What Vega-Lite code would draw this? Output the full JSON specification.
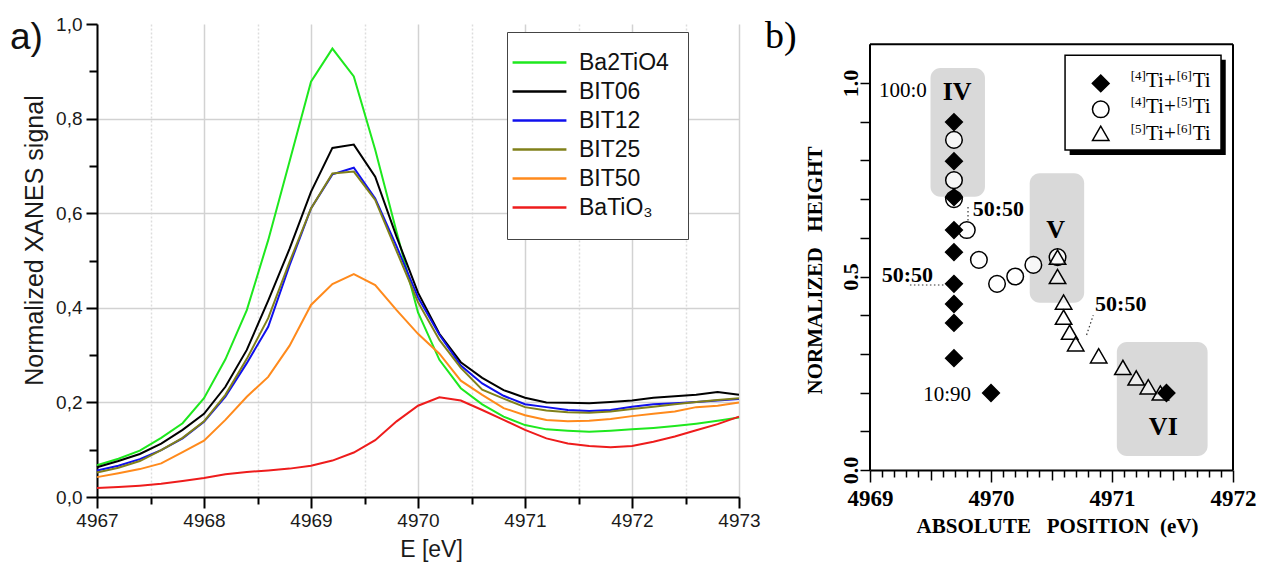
{
  "$schema": "https://vega.github.io/schema/vega-lite/v6.json",
  "background": "white",
  "padding": {"left": 10, "top": 15, "right": 5, "bottom": 5},
  "bounds": "flush",
  "spacing": 131,
  "config": {"view": {"stroke": null}},
  "datasets": {
    "xanes": [
      {"sample":"Ba2TiO4","E":4967,"signal":0.067},{"sample":"Ba2TiO4","E":4967.2,"signal":0.081},{"sample":"Ba2TiO4","E":4967.4,"signal":0.098},{"sample":"Ba2TiO4","E":4967.6,"signal":0.125},{"sample":"Ba2TiO4","E":4967.8,"signal":0.156},{"sample":"Ba2TiO4","E":4968,"signal":0.209},{"sample":"Ba2TiO4","E":4968.2,"signal":0.291},{"sample":"Ba2TiO4","E":4968.4,"signal":0.395},{"sample":"Ba2TiO4","E":4968.6,"signal":0.543},{"sample":"Ba2TiO4","E":4968.8,"signal":0.71},{"sample":"Ba2TiO4","E":4969,"signal":0.878},{"sample":"Ba2TiO4","E":4969.2,"signal":0.948},{"sample":"Ba2TiO4","E":4969.4,"signal":0.889},{"sample":"Ba2TiO4","E":4969.6,"signal":0.734},{"sample":"Ba2TiO4","E":4969.8,"signal":0.56},{"sample":"Ba2TiO4","E":4970,"signal":0.39},{"sample":"Ba2TiO4","E":4970.2,"signal":0.29},{"sample":"Ba2TiO4","E":4970.4,"signal":0.23},{"sample":"Ba2TiO4","E":4970.6,"signal":0.196},{"sample":"Ba2TiO4","E":4970.8,"signal":0.17},{"sample":"Ba2TiO4","E":4971,"signal":0.152},{"sample":"Ba2TiO4","E":4971.2,"signal":0.143},{"sample":"Ba2TiO4","E":4971.4,"signal":0.14},{"sample":"Ba2TiO4","E":4971.6,"signal":0.138},{"sample":"Ba2TiO4","E":4971.8,"signal":0.14},{"sample":"Ba2TiO4","E":4972,"signal":0.143},{"sample":"Ba2TiO4","E":4972.2,"signal":0.146},{"sample":"Ba2TiO4","E":4972.4,"signal":0.15},{"sample":"Ba2TiO4","E":4972.6,"signal":0.155},{"sample":"Ba2TiO4","E":4972.8,"signal":0.161},{"sample":"Ba2TiO4","E":4973,"signal":0.168},
      {"sample":"BIT06","E":4967,"signal":0.063},{"sample":"BIT06","E":4967.2,"signal":0.076},{"sample":"BIT06","E":4967.4,"signal":0.091},{"sample":"BIT06","E":4967.6,"signal":0.113},{"sample":"BIT06","E":4967.8,"signal":0.142},{"sample":"BIT06","E":4968,"signal":0.176},{"sample":"BIT06","E":4968.2,"signal":0.233},{"sample":"BIT06","E":4968.4,"signal":0.311},{"sample":"BIT06","E":4968.6,"signal":0.415},{"sample":"BIT06","E":4968.8,"signal":0.525},{"sample":"BIT06","E":4969,"signal":0.645},{"sample":"BIT06","E":4969.2,"signal":0.738},{"sample":"BIT06","E":4969.4,"signal":0.745},{"sample":"BIT06","E":4969.6,"signal":0.677},{"sample":"BIT06","E":4969.8,"signal":0.55},{"sample":"BIT06","E":4970,"signal":0.432},{"sample":"BIT06","E":4970.2,"signal":0.345},{"sample":"BIT06","E":4970.4,"signal":0.285},{"sample":"BIT06","E":4970.6,"signal":0.252},{"sample":"BIT06","E":4970.8,"signal":0.226},{"sample":"BIT06","E":4971,"signal":0.21},{"sample":"BIT06","E":4971.2,"signal":0.2},{"sample":"BIT06","E":4971.4,"signal":0.199},{"sample":"BIT06","E":4971.6,"signal":0.198},{"sample":"BIT06","E":4971.8,"signal":0.201},{"sample":"BIT06","E":4972,"signal":0.204},{"sample":"BIT06","E":4972.2,"signal":0.21},{"sample":"BIT06","E":4972.4,"signal":0.213},{"sample":"BIT06","E":4972.6,"signal":0.216},{"sample":"BIT06","E":4972.8,"signal":0.222},{"sample":"BIT06","E":4973,"signal":0.216},
      {"sample":"BIT12","E":4967,"signal":0.056},{"sample":"BIT12","E":4967.2,"signal":0.066},{"sample":"BIT12","E":4967.4,"signal":0.08},{"sample":"BIT12","E":4967.6,"signal":0.099},{"sample":"BIT12","E":4967.8,"signal":0.124},{"sample":"BIT12","E":4968,"signal":0.159},{"sample":"BIT12","E":4968.2,"signal":0.212},{"sample":"BIT12","E":4968.4,"signal":0.283},{"sample":"BIT12","E":4968.6,"signal":0.36},{"sample":"BIT12","E":4968.8,"signal":0.49},{"sample":"BIT12","E":4969,"signal":0.61},{"sample":"BIT12","E":4969.2,"signal":0.682},{"sample":"BIT12","E":4969.4,"signal":0.696},{"sample":"BIT12","E":4969.6,"signal":0.631},{"sample":"BIT12","E":4969.8,"signal":0.53},{"sample":"BIT12","E":4970,"signal":0.422},{"sample":"BIT12","E":4970.2,"signal":0.343},{"sample":"BIT12","E":4970.4,"signal":0.278},{"sample":"BIT12","E":4970.6,"signal":0.24},{"sample":"BIT12","E":4970.8,"signal":0.214},{"sample":"BIT12","E":4971,"signal":0.196},{"sample":"BIT12","E":4971.2,"signal":0.19},{"sample":"BIT12","E":4971.4,"signal":0.184},{"sample":"BIT12","E":4971.6,"signal":0.182},{"sample":"BIT12","E":4971.8,"signal":0.184},{"sample":"BIT12","E":4972,"signal":0.191},{"sample":"BIT12","E":4972.2,"signal":0.196},{"sample":"BIT12","E":4972.4,"signal":0.198},{"sample":"BIT12","E":4972.6,"signal":0.201},{"sample":"BIT12","E":4972.8,"signal":0.204},{"sample":"BIT12","E":4973,"signal":0.207},
      {"sample":"BIT25","E":4967,"signal":0.052},{"sample":"BIT25","E":4967.2,"signal":0.062},{"sample":"BIT25","E":4967.4,"signal":0.076},{"sample":"BIT25","E":4967.6,"signal":0.099},{"sample":"BIT25","E":4967.8,"signal":0.125},{"sample":"BIT25","E":4968,"signal":0.16},{"sample":"BIT25","E":4968.2,"signal":0.216},{"sample":"BIT25","E":4968.4,"signal":0.292},{"sample":"BIT25","E":4968.6,"signal":0.378},{"sample":"BIT25","E":4968.8,"signal":0.497},{"sample":"BIT25","E":4969,"signal":0.61},{"sample":"BIT25","E":4969.2,"signal":0.684},{"sample":"BIT25","E":4969.4,"signal":0.688},{"sample":"BIT25","E":4969.6,"signal":0.628},{"sample":"BIT25","E":4969.8,"signal":0.52},{"sample":"BIT25","E":4970,"signal":0.412},{"sample":"BIT25","E":4970.2,"signal":0.332},{"sample":"BIT25","E":4970.4,"signal":0.273},{"sample":"BIT25","E":4970.6,"signal":0.227},{"sample":"BIT25","E":4970.8,"signal":0.208},{"sample":"BIT25","E":4971,"signal":0.19},{"sample":"BIT25","E":4971.2,"signal":0.183},{"sample":"BIT25","E":4971.4,"signal":0.179},{"sample":"BIT25","E":4971.6,"signal":0.178},{"sample":"BIT25","E":4971.8,"signal":0.181},{"sample":"BIT25","E":4972,"signal":0.186},{"sample":"BIT25","E":4972.2,"signal":0.191},{"sample":"BIT25","E":4972.4,"signal":0.196},{"sample":"BIT25","E":4972.6,"signal":0.201},{"sample":"BIT25","E":4972.8,"signal":0.205},{"sample":"BIT25","E":4973,"signal":0.209},
      {"sample":"BIT50","E":4967,"signal":0.042},{"sample":"BIT50","E":4967.2,"signal":0.05},{"sample":"BIT50","E":4967.4,"signal":0.059},{"sample":"BIT50","E":4967.6,"signal":0.071},{"sample":"BIT50","E":4967.8,"signal":0.095},{"sample":"BIT50","E":4968,"signal":0.119},{"sample":"BIT50","E":4968.2,"signal":0.163},{"sample":"BIT50","E":4968.4,"signal":0.212},{"sample":"BIT50","E":4968.6,"signal":0.254},{"sample":"BIT50","E":4968.8,"signal":0.32},{"sample":"BIT50","E":4969,"signal":0.406},{"sample":"BIT50","E":4969.2,"signal":0.45},{"sample":"BIT50","E":4969.4,"signal":0.471},{"sample":"BIT50","E":4969.6,"signal":0.448},{"sample":"BIT50","E":4969.8,"signal":0.395},{"sample":"BIT50","E":4970,"signal":0.345},{"sample":"BIT50","E":4970.2,"signal":0.303},{"sample":"BIT50","E":4970.4,"signal":0.246},{"sample":"BIT50","E":4970.6,"signal":0.216},{"sample":"BIT50","E":4970.8,"signal":0.188},{"sample":"BIT50","E":4971,"signal":0.173},{"sample":"BIT50","E":4971.2,"signal":0.163},{"sample":"BIT50","E":4971.4,"signal":0.16},{"sample":"BIT50","E":4971.6,"signal":0.161},{"sample":"BIT50","E":4971.8,"signal":0.165},{"sample":"BIT50","E":4972,"signal":0.171},{"sample":"BIT50","E":4972.2,"signal":0.176},{"sample":"BIT50","E":4972.4,"signal":0.181},{"sample":"BIT50","E":4972.6,"signal":0.19},{"sample":"BIT50","E":4972.8,"signal":0.193},{"sample":"BIT50","E":4973,"signal":0.2},
      {"sample":"BaTiO₃","E":4967,"signal":0.019},{"sample":"BaTiO₃","E":4967.2,"signal":0.021},{"sample":"BaTiO₃","E":4967.4,"signal":0.024},{"sample":"BaTiO₃","E":4967.6,"signal":0.028},{"sample":"BaTiO₃","E":4967.8,"signal":0.034},{"sample":"BaTiO₃","E":4968,"signal":0.04},{"sample":"BaTiO₃","E":4968.2,"signal":0.048},{"sample":"BaTiO₃","E":4968.4,"signal":0.053},{"sample":"BaTiO₃","E":4968.6,"signal":0.056},{"sample":"BaTiO₃","E":4968.8,"signal":0.06},{"sample":"BaTiO₃","E":4969,"signal":0.066},{"sample":"BaTiO₃","E":4969.2,"signal":0.077},{"sample":"BaTiO₃","E":4969.4,"signal":0.094},{"sample":"BaTiO₃","E":4969.6,"signal":0.12},{"sample":"BaTiO₃","E":4969.8,"signal":0.16},{"sample":"BaTiO₃","E":4970,"signal":0.193},{"sample":"BaTiO₃","E":4970.2,"signal":0.211},{"sample":"BaTiO₃","E":4970.4,"signal":0.204},{"sample":"BaTiO₃","E":4970.6,"signal":0.184},{"sample":"BaTiO₃","E":4970.8,"signal":0.163},{"sample":"BaTiO₃","E":4971,"signal":0.142},{"sample":"BaTiO₃","E":4971.2,"signal":0.124},{"sample":"BaTiO₃","E":4971.4,"signal":0.113},{"sample":"BaTiO₃","E":4971.6,"signal":0.108},{"sample":"BaTiO₃","E":4971.8,"signal":0.105},{"sample":"BaTiO₃","E":4972,"signal":0.108},{"sample":"BaTiO₃","E":4972.2,"signal":0.117},{"sample":"BaTiO₃","E":4972.4,"signal":0.128},{"sample":"BaTiO₃","E":4972.6,"signal":0.141},{"sample":"BaTiO₃","E":4972.8,"signal":0.154},{"sample":"BaTiO₃","E":4973,"signal":0.17}
    ],
    "panelA": [{"E": 4966.187, "signal": 0.947, "label": "a)"}],
    "panelB": [{"x": 4968.132, "y": 1.09, "label": "b)"}],
    "regions": [
      {"x": 4969.5, "x2": 4969.95, "y": 0.706, "y2": 1.039},
      {"x": 4970.32, "x2": 4970.77, "y": 0.432, "y2": 0.767},
      {"x": 4971.04, "x2": 4971.79, "y": 0.036, "y2": 0.331}
    ],
    "frame": [
      {"x": 4969, "x2": 4969, "y": 0, "y2": 1.1},
      {"x": 4969, "x2": 4972, "y": 1.1, "y2": 1.1},
      {"x": 4972, "x2": 4972, "y": 0, "y2": 1.1}
    ],
    "leaders": [
      {"x": 4969.33, "x2": 4969.63, "y": 0.478, "y2": 0.478},
      {"x": 4969.81, "x2": 4969.81, "y": 0.645, "y2": 0.685},
      {"x": 4970.79, "x2": 4970.845, "y": 0.349, "y2": 0.4}
    ],
    "positions": [
      {"type": "[4]Ti+[5]Ti", "x": 4969.694, "y": 0.853},
      {"type": "[4]Ti+[5]Ti", "x": 4969.694, "y": 0.749},
      {"type": "[4]Ti+[5]Ti", "x": 4969.694, "y": 0.7},
      {"type": "[4]Ti+[5]Ti", "x": 4969.8, "y": 0.62},
      {"type": "[4]Ti+[5]Ti", "x": 4969.9, "y": 0.543},
      {"type": "[4]Ti+[5]Ti", "x": 4970.05, "y": 0.481},
      {"type": "[4]Ti+[5]Ti", "x": 4970.2, "y": 0.5},
      {"type": "[4]Ti+[5]Ti", "x": 4970.35, "y": 0.53},
      {"type": "[4]Ti+[5]Ti", "x": 4970.55, "y": 0.55},
      {"type": "[5]Ti+[6]Ti", "x": 4970.55, "y": 0.55},
      {"type": "[5]Ti+[6]Ti", "x": 4970.55, "y": 0.5},
      {"type": "[5]Ti+[6]Ti", "x": 4970.6, "y": 0.434},
      {"type": "[5]Ti+[6]Ti", "x": 4970.6, "y": 0.395},
      {"type": "[5]Ti+[6]Ti", "x": 4970.65, "y": 0.356},
      {"type": "[5]Ti+[6]Ti", "x": 4970.7, "y": 0.326},
      {"type": "[5]Ti+[6]Ti", "x": 4970.89, "y": 0.295},
      {"type": "[5]Ti+[6]Ti", "x": 4971.09, "y": 0.265},
      {"type": "[5]Ti+[6]Ti", "x": 4971.2, "y": 0.238},
      {"type": "[5]Ti+[6]Ti", "x": 4971.3, "y": 0.215},
      {"type": "[5]Ti+[6]Ti", "x": 4971.4, "y": 0.199},
      {"type": "[4]Ti+[6]Ti", "x": 4969.694, "y": 0.899},
      {"type": "[4]Ti+[6]Ti", "x": 4969.694, "y": 0.798},
      {"type": "[4]Ti+[6]Ti", "x": 4969.694, "y": 0.705},
      {"type": "[4]Ti+[6]Ti", "x": 4969.694, "y": 0.62},
      {"type": "[4]Ti+[6]Ti", "x": 4969.694, "y": 0.563},
      {"type": "[4]Ti+[6]Ti", "x": 4969.694, "y": 0.481},
      {"type": "[4]Ti+[6]Ti", "x": 4969.694, "y": 0.429},
      {"type": "[4]Ti+[6]Ti", "x": 4969.694, "y": 0.38},
      {"type": "[4]Ti+[6]Ti", "x": 4969.694, "y": 0.289},
      {"type": "[4]Ti+[6]Ti", "x": 4970.0, "y": 0.199},
      {"type": "[4]Ti+[6]Ti", "x": 4971.45, "y": 0.199}
    ],
    "keyShadow": [{"x": 4970.65, "x2": 4971.94, "y": 0.814, "y2": 1.06}],
    "keyBox": [{"x": 4970.612, "x2": 4971.901, "y": 0.827, "y2": 1.072}],
    "keyItems": [
      {"type": "[4]Ti+[6]Ti", "x": 4970.907, "y": 0.999},
      {"type": "[4]Ti+[5]Ti", "x": 4970.907, "y": 0.932},
      {"type": "[5]Ti+[6]Ti", "x": 4970.907, "y": 0.87}
    ],
    "keyMain": [
      {"x": 4971.281, "y": 0.989, "text": "Ti+"}, {"x": 4971.667, "y": 0.989, "text": "Ti"},
      {"x": 4971.281, "y": 0.922, "text": "Ti+"}, {"x": 4971.667, "y": 0.922, "text": "Ti"},
      {"x": 4971.281, "y": 0.853, "text": "Ti+"}, {"x": 4971.667, "y": 0.853, "text": "Ti"}
    ],
    "keySup": [
      {"x": 4971.155, "y": 0.989, "text": "[4]"}, {"x": 4971.535, "y": 0.989, "text": "[6]"},
      {"x": 4971.155, "y": 0.922, "text": "[4]"}, {"x": 4971.535, "y": 0.922, "text": "[5]"},
      {"x": 4971.155, "y": 0.853, "text": "[5]"}, {"x": 4971.535, "y": 0.853, "text": "[6]"}
    ],
    "notesRegular": [
      {"x": 4969.074, "y": 0.963, "text": "100:0"},
      {"x": 4969.44, "y": 0.179, "text": "10:90"}
    ],
    "notesBold": [
      {"x": 4969.849, "y": 0.656, "text": "50:50"},
      {"x": 4969.097, "y": 0.487, "text": "50:50"},
      {"x": 4970.86, "y": 0.412, "text": "50:50"}
    ],
    "regionNames": [
      {"x": 4969.72, "y": 0.956, "text": "IV"},
      {"x": 4970.535, "y": 0.599, "text": "V"},
      {"x": 4971.424, "y": 0.09, "text": "VI"}
    ]
  },
  "hconcat": [
    {
      "width": 642,
      "height": 473,
      "layer": [
        {
          "data": {"name": "xanes"},
          "mark": {"type": "line", "strokeWidth": 2},
          "encoding": {
            "x": {
              "field": "E", "type": "quantitative",
              "scale": {"domain": [4967, 4973], "nice": false, "zero": false},
              "axis": {
                "title": "E [eV]", "titleFont": "Liberation Sans", "titleFontSize": 23, "titleFontWeight": "normal", "titleColor": "#1a1a1a", "titlePadding": 8, "titleX": 334,
                "values": [4967, 4967.5, 4968, 4968.5, 4969, 4969.5, 4970, 4970.5, 4971, 4971.5, 4972, 4972.5, 4973],
                "labelExpr": "datum.value % 1 === 0 ? format(datum.value, 'd') : ''",
                "labelFont": "Liberation Sans", "labelFontSize": 19, "labelColor": "#1a1a1a", "labelPadding": 3, "labelFlush": false, "labelOverlap": false,
                "tickColor": "#000", "tickWidth": 2,
                "tickSize": {"condition": {"test": "datum.value % 1 === 0", "value": 11}, "value": 7},
                "domainColor": "#000", "domainWidth": 2,
                "grid": true, "gridWidth": 1.5,
                "gridColor": {"condition": {"test": "datum.value % 1 === 0", "value": "#d2d2d2"}, "value": "#dddddd"},
                "gridDash": {"condition": {"test": "datum.value % 1 === 0", "value": []}, "value": [2, 2]}
              }
            },
            "y": {
              "field": "signal", "type": "quantitative",
              "scale": {"domain": [0, 1], "nice": false},
              "axis": {
                "title": "Normalized XANES signal", "titleFont": "Liberation Sans", "titleFontSize": 25, "titleFontWeight": "normal", "titleColor": "#1a1a1a", "titlePadding": 8, "titleY": 216,
                "values": [0, 0.1, 0.2, 0.3, 0.4, 0.5, 0.6, 0.7, 0.8, 0.9, 1.0],
                "labelExpr": "round(datum.value * 10) % 2 === 0 ? replace(format(datum.value, '.1f'), '.', ',') : ''",
                "labelFont": "Liberation Sans", "labelFontSize": 19, "labelColor": "#1a1a1a", "labelPadding": 4, "labelFlush": false, "labelOverlap": false,
                "tickColor": "#000", "tickWidth": 2,
                "tickSize": {"condition": {"test": "round(datum.value * 10) % 2 === 0", "value": 11}, "value": 8},
                "domainColor": "#000", "domainWidth": 2,
                "grid": true, "gridWidth": 1.5, "gridColor": "#d2d2d2",
                "gridOpacity": {"condition": {"test": "round(datum.value * 10) % 2 === 0 && datum.value > 0.05 && datum.value < 0.95", "value": 1}, "value": 0}
              }
            },
            "color": {
              "field": "sample", "type": "nominal",
              "scale": {"domain": ["Ba2TiO4", "BIT06", "BIT12", "BIT25", "BIT50", "BaTiO₃"], "range": ["#1ee81e", "#000000", "#1010ee", "#80801a", "#ff8a1c", "#ee1c1c"]},
              "legend": {
                "title": null, "orient": "none", "legendX": 410, "legendY": 8,
                "symbolType": "M-5,0H5", "symbolSize": 116, "symbolStrokeWidth": 2.5, "symbolOffset": 2,
                "labelFont": "Liberation Sans", "labelFontSize": 23, "labelColor": "#111", "labelOffset": 28, "labelLimit": 300,
                "rowPadding": 5, "padding": 19,
                "strokeColor": "#444", "fillColor": "white"
              }
            }
          }
        },
        {
          "data": {"name": "panelA"},
          "mark": {"type": "text", "font": "Liberation Sans", "fontSize": 37, "align": "left", "baseline": "alphabetic", "color": "#111"},
          "encoding": {
            "x": {"field": "E", "type": "quantitative"},
            "y": {"field": "signal", "type": "quantitative"},
            "text": {"field": "label"}
          }
        }
      ]
    },
    {
      "width": 363,
      "height": 446,
      "encoding": {
        "x": {
          "field": "x", "type": "quantitative",
          "scale": {"domain": [4969, 4972], "nice": false, "zero": false},
          "axis": {
            "title": "ABSOLUTE\u00a0\u00a0\u00a0POSITION\u00a0\u00a0(eV)", "titleFont": "Liberation Serif", "titleFontSize": 21, "titleFontWeight": "bold", "titleColor": "#000", "titlePadding": 5, "titleX": 187,
            "values": [4969, 4969.1, 4969.2, 4969.3, 4969.4, 4969.5, 4969.6, 4969.7, 4969.8, 4969.9, 4970, 4970.1, 4970.2, 4970.3, 4970.4, 4970.5, 4970.6, 4970.7, 4970.8, 4970.9, 4971, 4971.1, 4971.2, 4971.3, 4971.4, 4971.5, 4971.6, 4971.7, 4971.8, 4971.9, 4972],
            "labelExpr": "abs(datum.value - round(datum.value)) < 0.01 ? format(datum.value, 'd') : ''",
            "labelFont": "Liberation Serif", "labelFontSize": 23, "labelFontWeight": "bold", "labelColor": "#000", "labelPadding": 5, "labelFlush": false, "labelOverlap": false,
            "tickColor": "#000", "tickWidth": 1.5,
            "tickSize": {"condition": [{"test": "abs(datum.value - round(datum.value)) < 0.01", "value": 12}, {"test": "abs(datum.value * 2 - round(datum.value * 2)) < 0.01", "value": 10}], "value": 7},
            "domainColor": "#000", "domainWidth": 2, "grid": false
          }
        },
        "y": {
          "field": "y", "type": "quantitative",
          "scale": {"domain": [0, 1.1525], "nice": false},
          "axis": {
            "title": "NORMALIZED\u00a0\u00a0\u00a0HEIGHT", "titleFont": "Liberation Serif", "titleFontSize": 21, "titleFontWeight": "bold", "titleColor": "#000", "titlePadding": 14, "titleY": 246,
            "values": [0, 0.1, 0.2, 0.3, 0.4, 0.5, 0.6, 0.7, 0.8, 0.9, 1.0],
            "labelExpr": "round(datum.value * 10) % 5 === 0 ? format(datum.value, '.1f') : ''",
            "labelFont": "Liberation Serif", "labelFontSize": 22, "labelFontWeight": "bold", "labelColor": "#000", "labelAngle": 270, "labelAlign": "center", "labelBaseline": "alphabetic", "labelPadding": 3, "labelFlush": false, "labelOverlap": false,
            "tickColor": "#000", "tickWidth": 1.5, "tickSize": 10,
            "domain": false, "grid": false
          }
        }
      },
      "layer": [
        {
          "data": {"name": "regions"},
          "mark": {"type": "rect", "fill": "#d9d9d9", "cornerRadius": 10},
          "encoding": {"x2": {"field": "x2"}, "y2": {"field": "y2"}}
        },
        {
          "data": {"name": "frame"},
          "mark": {"type": "rule", "color": "#000", "strokeWidth": 2},
          "encoding": {"x2": {"field": "x2"}, "y2": {"field": "y2"}}
        },
        {
          "data": {"name": "leaders"},
          "mark": {"type": "rule", "color": "#333", "strokeWidth": 1.2, "strokeDash": [1.5, 2.5]},
          "encoding": {"x2": {"field": "x2"}, "y2": {"field": "y2"}}
        },
        {
          "data": {"name": "positions"},
          "mark": {"type": "point", "stroke": "#000", "strokeWidth": 1.5, "opacity": 1},
          "encoding": {
            "shape": {"field": "type", "type": "nominal", "scale": {"domain": ["[4]Ti+[6]Ti", "[4]Ti+[5]Ti", "[5]Ti+[6]Ti"], "range": ["diamond", "circle", "triangle-up"]}, "legend": null},
            "fill": {"field": "type", "type": "nominal", "scale": {"domain": ["[4]Ti+[6]Ti", "[4]Ti+[5]Ti", "[5]Ti+[6]Ti"], "range": ["#000000", "#ffffff", "#ffffff"]}, "legend": null},
            "fillOpacity": {"field": "type", "type": "ordinal", "scale": {"domain": ["[4]Ti+[6]Ti", "[4]Ti+[5]Ti", "[5]Ti+[6]Ti"], "range": [1, 0.55, 0.55]}, "legend": null},
            "size": {"field": "type", "type": "ordinal", "scale": {"domain": ["[4]Ti+[6]Ti", "[4]Ti+[5]Ti", "[5]Ti+[6]Ti"], "range": [280, 270, 320]}, "legend": null}
          }
        },
        {
          "data": {"name": "keyShadow"},
          "mark": {"type": "rect", "fill": "#000"},
          "encoding": {"x2": {"field": "x2"}, "y2": {"field": "y2"}}
        },
        {
          "data": {"name": "keyBox"},
          "mark": {"type": "rect", "fill": "#fff", "stroke": "#000", "strokeWidth": 1.5},
          "encoding": {"x2": {"field": "x2"}, "y2": {"field": "y2"}}
        },
        {
          "data": {"name": "keyItems"},
          "mark": {"type": "point", "stroke": "#000", "strokeWidth": 1.5, "opacity": 1},
          "encoding": {
            "shape": {"field": "type", "type": "nominal", "legend": null},
            "fill": {"field": "type", "type": "nominal", "legend": null},
            "fillOpacity": {"value": 1},
            "size": {"field": "type", "type": "ordinal", "legend": null}
          }
        },
        {
          "data": {"name": "keyMain"},
          "mark": {"type": "text", "font": "Liberation Serif", "fontSize": 21, "align": "left", "baseline": "alphabetic", "color": "#000"},
          "encoding": {"text": {"field": "text"}}
        },
        {
          "data": {"name": "keySup"},
          "mark": {"type": "text", "font": "Liberation Serif", "fontSize": 13, "align": "left", "baseline": "alphabetic", "dy": -7, "color": "#000"},
          "encoding": {"text": {"field": "text"}}
        },
        {
          "data": {"name": "notesRegular"},
          "mark": {"type": "text", "font": "Liberation Serif", "fontSize": 21, "align": "left", "baseline": "alphabetic", "color": "#000"},
          "encoding": {"text": {"field": "text"}}
        },
        {
          "data": {"name": "notesBold"},
          "mark": {"type": "text", "font": "Liberation Serif", "fontSize": 22, "fontWeight": "bold", "align": "left", "baseline": "alphabetic", "color": "#000"},
          "encoding": {"text": {"field": "text"}}
        },
        {
          "data": {"name": "regionNames"},
          "mark": {"type": "text", "font": "Liberation Serif", "fontSize": 26, "fontWeight": "bold", "align": "center", "baseline": "alphabetic", "color": "#000"},
          "encoding": {"text": {"field": "text"}}
        },
        {
          "data": {"name": "panelB"},
          "mark": {"type": "text", "font": "Liberation Serif", "fontSize": 38, "align": "left", "baseline": "alphabetic", "color": "#000"},
          "encoding": {"text": {"field": "label"}}
        }
      ]
    }
  ]
}
